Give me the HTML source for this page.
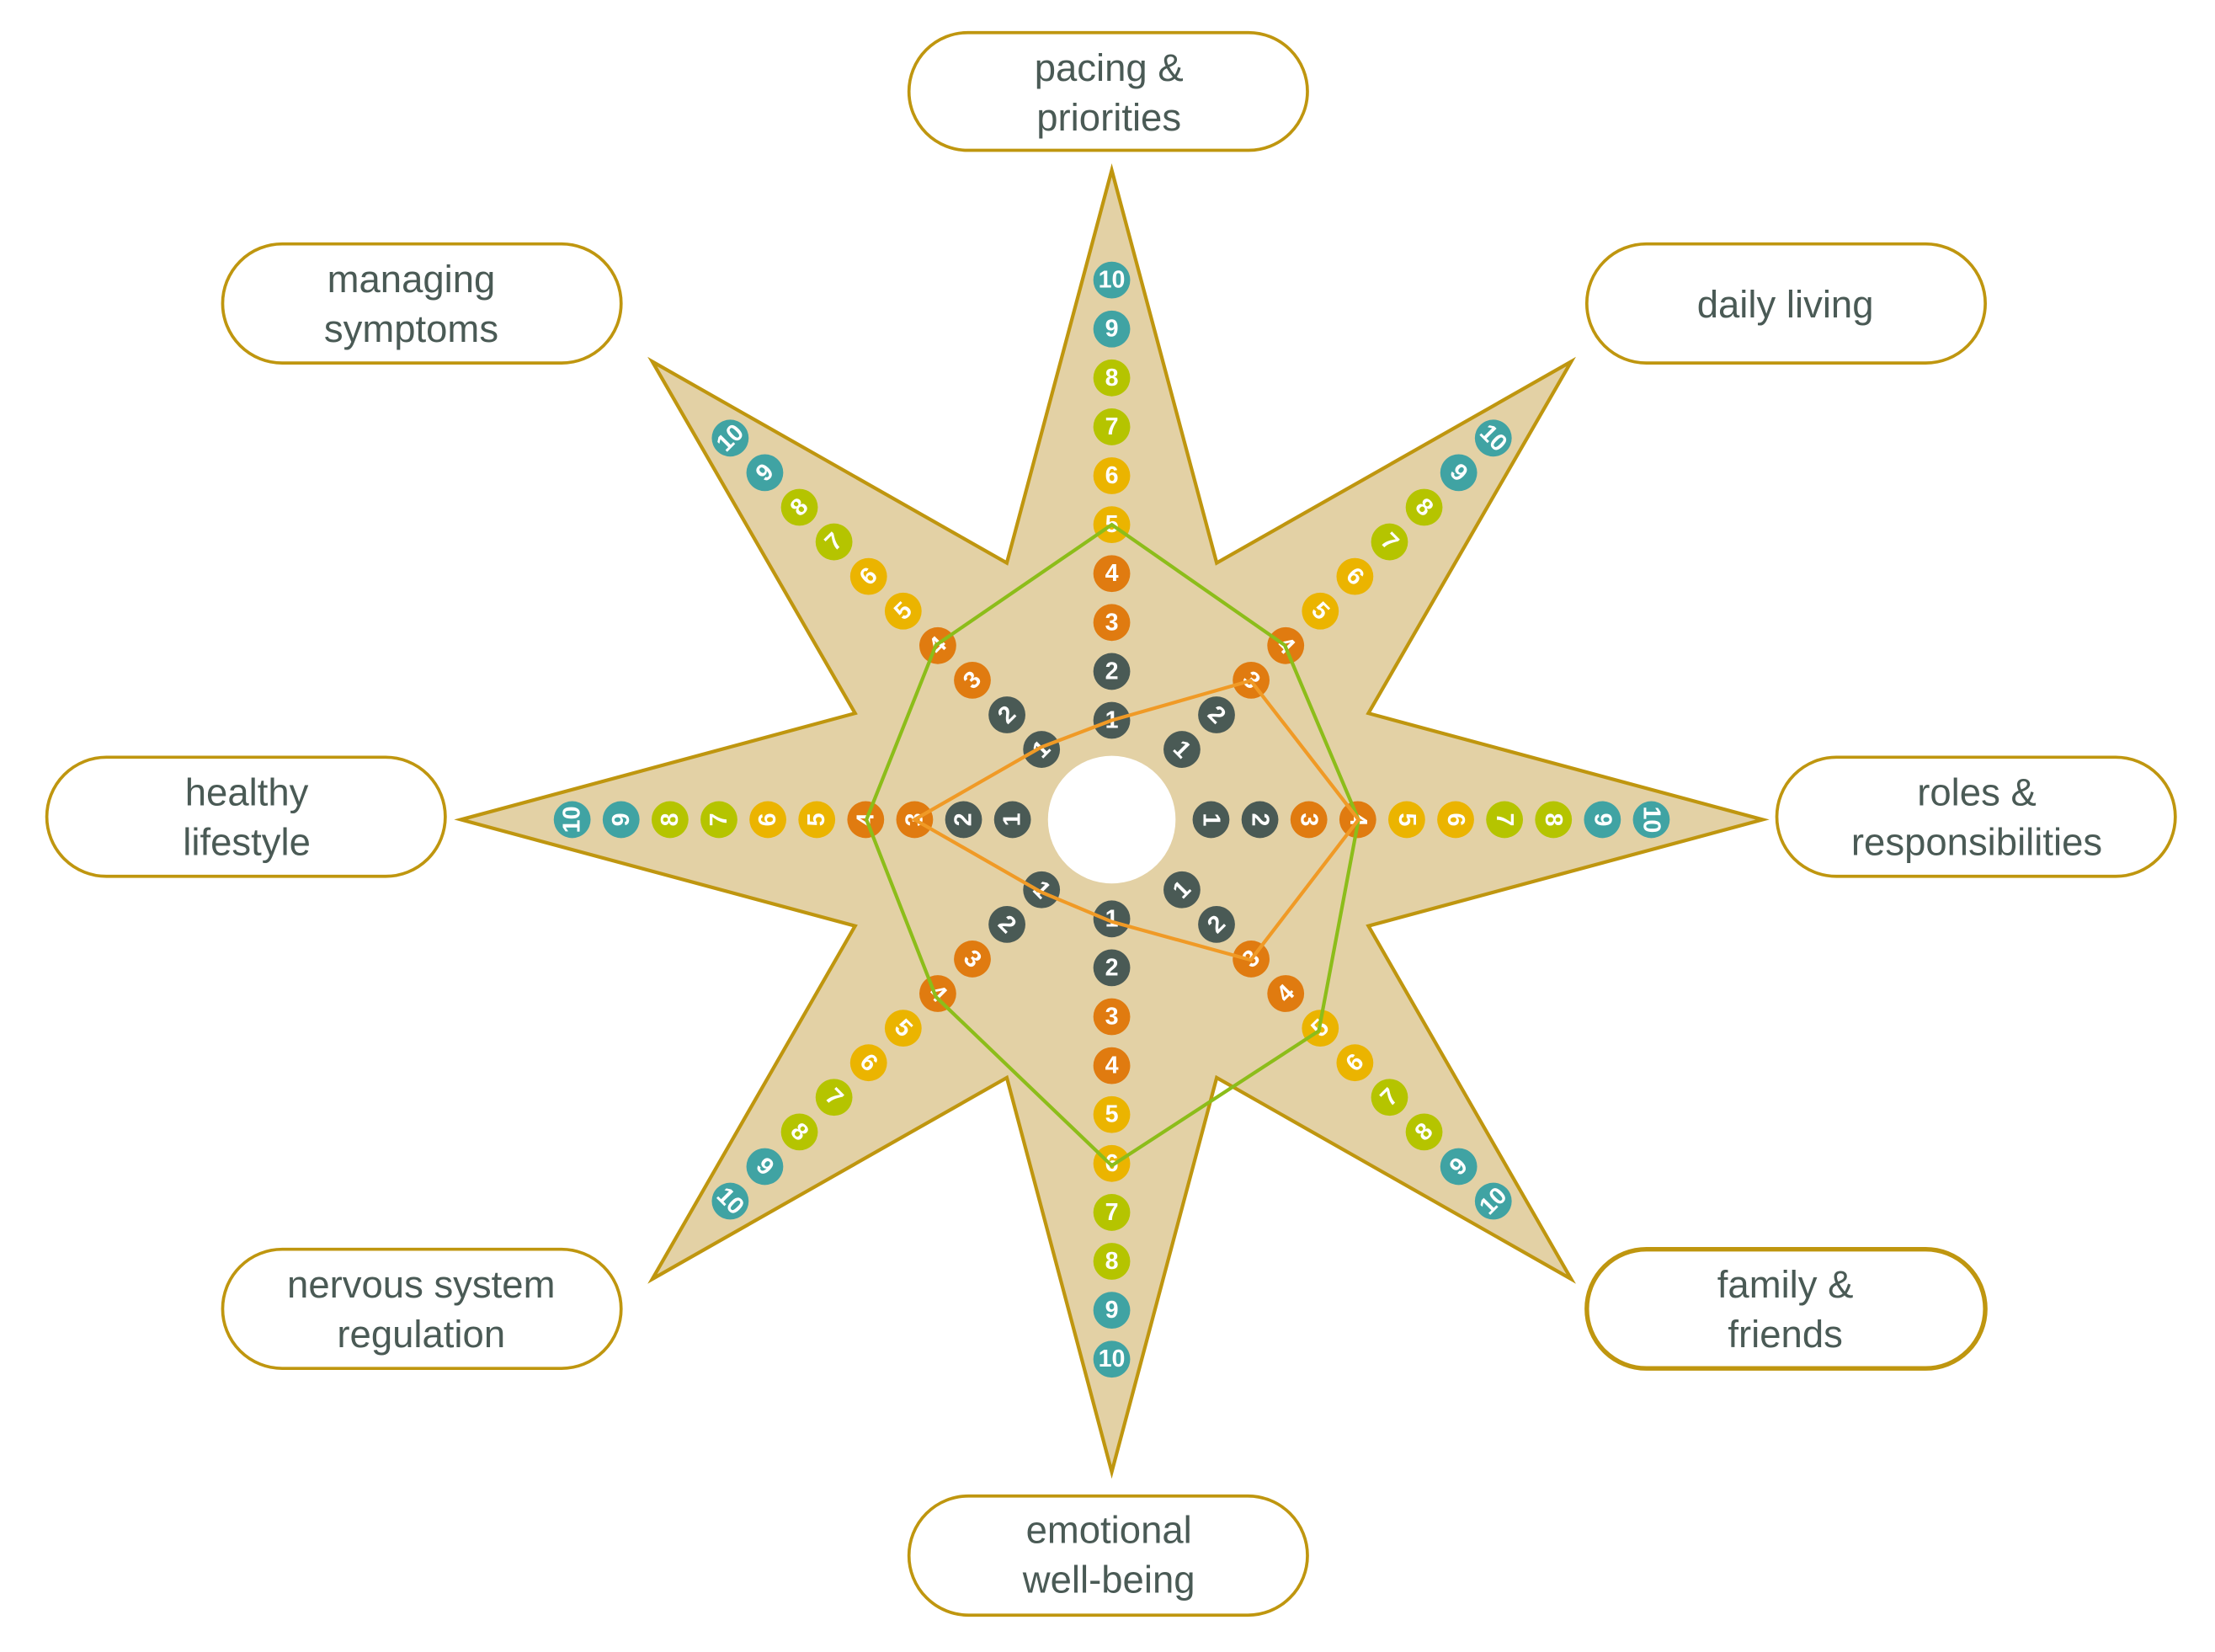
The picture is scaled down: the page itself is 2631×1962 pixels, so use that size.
<!DOCTYPE html>
<html><head><meta charset="utf-8"><style>
html,body{margin:0;padding:0;background:#fff;}
svg{display:block;}
.b{fill:#fff;stroke:#bf960f;stroke-width:2.2;}
.l{font-family:"Liberation Sans",sans-serif;font-size:27px;fill:#4a5a55;text-anchor:middle;}
.n text{font-family:"Liberation Sans",sans-serif;font-size:17px;font-weight:600;fill:#fff;text-anchor:middle;dominant-baseline:central;}
.c1{fill:#4a5a55}.c3{fill:#e07b10}.c5{fill:#ebb400}.c7{fill:#b5c400}.c9{fill:#40a3a3}
</style></head><body>
<svg width="2631" height="1962" viewBox="0 0 1562 1165" preserveAspectRatio="none" xmlns="http://www.w3.org/2000/svg">
<polygon points="784,120 858,397 1108,255 965,503 1243,578 965,653 1108,902 858,760 784,1038 710,760 460,902 603,653 325,578 603,503 460,255 710,397" fill="#e3d1a5" stroke="#bf960f" stroke-width="2.5" stroke-linejoin="miter"/>
<circle cx="784" cy="578" r="45" fill="#fff"/>

<defs>
<g id="up" class="n">
<circle cy="-70" r="13" class="c1"/><text y="-70">1</text>
<circle cy="-104.5" r="13" class="c1"/><text y="-104.5">2</text>
<circle cy="-139" r="13" class="c3"/><text y="-139">3</text>
<circle cy="-173.5" r="13" class="c3"/><text y="-173.5">4</text>
<circle cy="-208" r="13" class="c5"/><text y="-208">5</text>
<circle cy="-242.5" r="13" class="c5"/><text y="-242.5">6</text>
<circle cy="-277" r="13" class="c7"/><text y="-277">7</text>
<circle cy="-311.5" r="13" class="c7"/><text y="-311.5">8</text>
<circle cy="-346" r="13" class="c9"/><text y="-346">9</text>
<circle cy="-380.5" r="13" class="c9"/><text y="-380.5">10</text>
</g>
<g id="dn" class="n">
<circle cy="70" r="13" class="c1"/><text y="70">1</text>
<circle cy="104.5" r="13" class="c1"/><text y="104.5">2</text>
<circle cy="139" r="13" class="c3"/><text y="139">3</text>
<circle cy="173.5" r="13" class="c3"/><text y="173.5">4</text>
<circle cy="208" r="13" class="c5"/><text y="208">5</text>
<circle cy="242.5" r="13" class="c5"/><text y="242.5">6</text>
<circle cy="277" r="13" class="c7"/><text y="277">7</text>
<circle cy="311.5" r="13" class="c7"/><text y="311.5">8</text>
<circle cy="346" r="13" class="c9"/><text y="346">9</text>
<circle cy="380.5" r="13" class="c9"/><text y="380.5">10</text>
</g>
</defs>
<use href="#up" transform="translate(784,578)"/>
<use href="#up" transform="translate(784,578) rotate(45)"/>
<use href="#up" transform="translate(784,578) rotate(90)"/>
<use href="#up" transform="translate(784,578) rotate(-45)"/>
<use href="#up" transform="translate(784,578) rotate(-90)"/>
<use href="#dn" transform="translate(784,578)"/>
<use href="#dn" transform="translate(784,578) rotate(-45)"/>
<use href="#dn" transform="translate(784,578) rotate(45)"/>

<polygon points="784,370 906,455 958,578 930,727 784,822 660,703 611,578 660,455" fill="none" stroke="#8cbd1a" stroke-width="2.5"/>
<polygon points="784,508 882,480 958,578 882,677 784,650 734,629 645,578 734,527" fill="none" stroke="#f09a26" stroke-width="2.5"/>

<rect class="b" x="641" y="23" width="281" height="83" rx="41.5"/>
<text class="l" x="782" y="57">pacing &amp;</text><text class="l" x="782" y="92">priorities</text>
<rect class="b" x="157" y="172" width="281" height="84" rx="42"/>
<text class="l" x="290" y="206">managing</text><text class="l" x="290" y="241">symptoms</text>
<rect class="b" x="1119" y="172" width="281" height="84" rx="42"/>
<text class="l" x="1259" y="224">daily living</text>
<rect class="b" x="33" y="534" width="281" height="84" rx="42"/>
<text class="l" x="174" y="568">healthy</text><text class="l" x="174" y="603">lifestyle</text>
<rect class="b" x="1253" y="534" width="281" height="84" rx="42"/>
<text class="l" x="1394" y="568">roles &amp;</text><text class="l" x="1394" y="603">responsibilities</text>
<rect class="b" x="157" y="881" width="281" height="84" rx="42"/>
<text class="l" x="297" y="915">nervous system</text><text class="l" x="297" y="950">regulation</text>
<rect class="b" x="1119" y="881" width="281" height="84" rx="42" style="stroke-width:3.2"/>
<text class="l" x="1259" y="915">family &amp;</text><text class="l" x="1259" y="950">friends</text>
<rect class="b" x="641" y="1055" width="281" height="84" rx="42"/>
<text class="l" x="782" y="1088">emotional</text><text class="l" x="782" y="1123">well-being</text>
</svg>
</body></html>
